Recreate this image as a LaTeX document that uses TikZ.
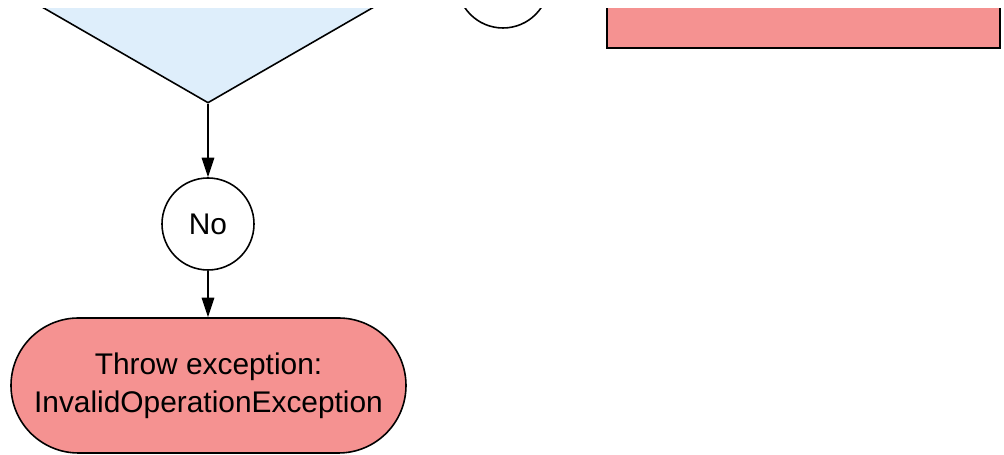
\documentclass[tikz,border=0pt]{standalone}
\usepackage{fontspec}
\setsansfont{Liberation Sans}
\usetikzlibrary{positioning,arrows.meta,shapes.geometric}
\definecolor{askblue}{HTML}{DEEEFB}
\definecolor{errred}{HTML}{F59291}

\begin{document}
\begin{tikzpicture}[
    font=\sffamily\fontsize{17}{21.5}\selectfont,
    line width=0.9pt,
    decision/.style={draw, diamond, fill=askblue, inner sep=0pt,
                     minimum width=10.4cm, minimum height=6cm},
    answer/.style={draw, circle, fill=white, inner sep=0pt, minimum size=1.84cm},
    term/.style={draw, fill=errred, rounded corners=1.35cm, align=center,
                 minimum width=7.9cm, minimum height=2.7cm},
    proc/.style={draw, fill=errred, minimum width=7.86cm, minimum height=2cm},
    flow/.style={-{Triangle[length=3.9mm, width=2.5mm]}},
  ]
  \useasboundingbox (0,0) rectangle (20.08,9.10);
  \clip (0,-0.1) rectangle (20.2,8.92);

  % --- upper row (cut off by the frame) -----------------------------------
  \node[decision] (check) at (4.16,10.04) {};
  \node[answer]   (yes)   at (10.06,9.46) {};
  \node[proc]     (next)  at (16.07,9.14) {};

  % --- no branch ----------------------------------------------------------
  \node[answer] (no)    at (4.16,4.62) {No};
  \node[term]   (throw) at (4.17,1.39) {Throw exception:\\InvalidOperationException};

  % --- Arrows -------------------------------------------------------------
  \draw[flow] (check.south) -- (no);
  \draw[flow] (no) -- (no |- throw.north);

\end{tikzpicture}
\end{document}
